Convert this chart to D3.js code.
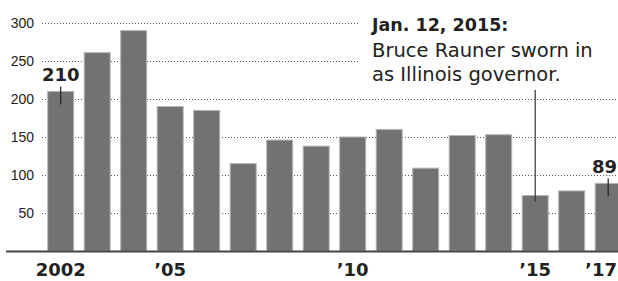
<!DOCTYPE html>
<html>
<head>
<meta charset="utf-8">
<script src="https://cdn.jsdelivr.net/npm/d3@7"></script>
<style>
  body { margin: 0; background: #fff; }
  svg { display: block; font-family: "DejaVu Sans", sans-serif; }
  .grid line { stroke: #555; stroke-dasharray: 1,2; }
  .grid text { fill: #222; font-size: 14px; }
</style>
</head>
<body>
<div id="main"></div>
<script>
var years = [2002, 2003, 2004, 2005, 2006, 2007, 2008, 2009, 2010, 2011, 2012, 2013, 2014, 2015, 2016, 2017];
var values = [210, 261, 290, 190, 185, 115, 146, 138, 150, 160, 109, 152, 153, 73, 79, 89];
var yTicks = [50, 100, 150, 200, 250, 300];
var xLabels = {2002: "2002", 2005: "\u201905", 2010: "\u201910", 2015: "\u201915", 2017: "\u201917"};
var callouts = [{year: 2002, text: "210"}, {year: 2017, text: "89"}];
var noteYear = 2015;
var noteLines = ["Jan. 12, 2015:", "Bruce Rauner sworn in", "as Illinois governor."];

var width = 618, height = 281;

var x = d3.scaleBand()
  .domain(years)
  .range([42.45, 626.45])
  .paddingInner(0.288)
  .paddingOuter(0.144);

var y = d3.scaleLinear()
  .domain([0, 300])
  .range([251, 23]);

var svg = d3.select("#main").append("svg")
  .attr("width", width)
  .attr("height", height);

// dotted grid + left labels
var grid = svg.append("g")
  .attr("class", "grid")
  .attr("transform", "translate(42,0)")
  .call(d3.axisLeft(y).tickValues(yTicks).tickSize(-(width - 42)).tickPadding(8));
grid.select(".domain").remove();

// white box behind the note
svg.append("rect")
  .attr("x", 358)
  .attr("y", 0)
  .attr("width", width - 358)
  .attr("height", 89)
  .attr("fill", "#fff");

svg.selectAll(".bar")
  .data(years)
  .enter().append("rect")
  .attr("class", "bar")
  .attr("x", function(d) { return x(d); })
  .attr("y", function(d, i) { return y(values[i]); })
  .attr("width", x.bandwidth())
  .attr("height", function(d, i) { return y(0) - y(values[i]); })
  .attr("fill", "#727272")
  .attr("stroke", "#b5b5b5")
  .attr("stroke-width", 1);

// baseline
svg.append("line")
  .attr("x1", 6)
  .attr("x2", width)
  .attr("y1", y(0) + 0.5)
  .attr("y2", y(0) + 0.5)
  .attr("stroke", "#444")
  .attr("stroke-width", 2);

// x labels (last one pulled in so it isn't cut)
var lastYear = years[years.length - 1];
svg.selectAll(".xlab")
  .data(years.filter(function(d) { return xLabels[d]; }))
  .enter().append("text")
  .attr("class", "xlab")
  .attr("x", function(d) { return d == lastYear ? width - 1 : x(d) + x.bandwidth() / 2; })
  .attr("y", 276)
  .attr("text-anchor", function(d) { return d == lastYear ? "end" : "middle"; })
  .attr("font-size", "18px")
  .attr("font-weight", "bold")
  .attr("fill", "#222")
  .text(function(d) { return xLabels[d]; });

// value callouts
callouts.forEach(function(c) {
  var i = years.indexOf(c.year);
  var cx = x(c.year) + x.bandwidth() / 2;
  var last = i == years.length - 1;
  svg.append("line")
    .attr("x1", cx).attr("x2", cx)
    .attr("y1", y(values[i]) - 5)
    .attr("y2", y(values[i]) + 13)
    .attr("stroke", "#222")
    .attr("stroke-width", 1.2);
  svg.append("text")
    .attr("x", last ? width - 1 : cx)
    .attr("y", y(values[i]) - 10)
    .attr("text-anchor", last ? "end" : "middle")
    .attr("font-size", "18px")
    .attr("font-weight", "bold")
    .attr("fill", "#222")
    .text(c.text);
});

// note
var ni = years.indexOf(noteYear);
var nx = x(noteYear) + x.bandwidth() / 2;
svg.append("line")
  .attr("x1", nx).attr("x2", nx)
  .attr("y1", 90)
  .attr("y2", y(values[ni]) + 6)
  .attr("stroke", "#333")
  .attr("stroke-width", 1.2);

var note = svg.append("text")
  .attr("x", 372)
  .attr("fill", "#222");
note.append("tspan")
  .attr("x", 372).attr("y", 31)
  .attr("font-size", "17.5px")
  .attr("font-weight", "bold")
  .text(noteLines[0]);
note.append("tspan")
  .attr("x", 372).attr("y", 57)
  .attr("font-size", "19.5px")
  .text(noteLines[1]);
note.append("tspan")
  .attr("x", 372).attr("y", 81)
  .attr("font-size", "19.5px")
  .text(noteLines[2]);
</script>
</body>
</html>
